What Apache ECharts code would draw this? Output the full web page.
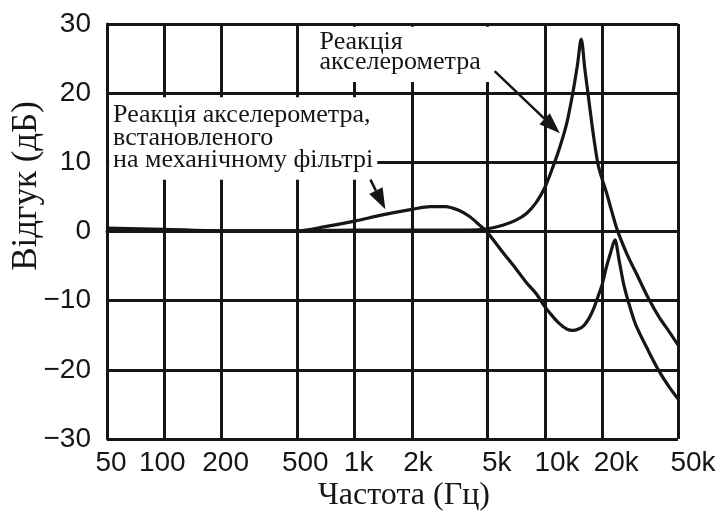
<!DOCTYPE html>
<html>
<head>
<meta charset="utf-8">
<script src="https://cdn.jsdelivr.net/npm/echarts@6/dist/echarts.min.js"></script>
<style>
  html, body { margin: 0; padding: 0; background: #ffffff; }
  #chart { width: 721px; height: 513px; }
</style>
</head>
<body>
<div id="chart"></div>
<script>
// Frequency axis ticks (Hz) and their printed labels
const xTickValues = [50, 100, 200, 500, 1000, 2000, 5000, 10000, 20000, 50000];
const xTickLabels = ['50', '100', '200', '500', '1k', '2k', '5k', '10k', '20k', '50k'];

// Bare accelerometer response (Hz, dB)
const freqA = [50, 100, 200, 500, 1000, 2000, 3000, 4000, 5000, 6000, 7000, 8000, 9000,
  10000, 11000, 12000, 13000, 14000, 14800, 15500, 16200, 17000, 18000, 19000, 20000,
  21000, 22500, 24000, 27000, 30000, 35000, 40000, 45000, 50000];
const respA = [0.3, 0.2, 0.1, 0.1, 0.2, 0.2, 0.2, 0.2, 0.4, 0.9, 1.6, 2.6, 4.2,
  6.4, 9.3, 12.3, 15.6, 20.0, 24.0, 27.8, 23.5, 19.0, 13.8, 9.7, 7.5,
  5.7, 2.8, 0.2, -3.3, -5.9, -9.7, -12.5, -14.5, -16.4];

// Accelerometer mounted on the mechanical filter (Hz, dB)
const freqB = [50, 100, 200, 500, 700, 1000, 1400, 2000, 2500, 3000, 3500, 4000, 4500,
  5000, 6000, 7000, 8000, 9000, 10000, 11000, 12000, 13000, 14000, 15000, 16000, 17000,
  18000, 19000, 20000, 21000, 22000, 23300, 24500, 26000, 28000, 30000, 35000, 40000,
  45000, 50000];
const respB = [0.5, 0.3, 0.1, 0.1, 0.7, 1.5, 2.4, 3.2, 3.6, 3.6, 3.1, 2.2, 1.0,
  -0.2, -3.0, -5.3, -7.4, -9.0, -10.9, -12.3, -13.4, -14.1, -14.3, -14.1, -13.6, -12.6,
  -11.2, -9.4, -7.6, -5.2, -3.3, -1.2, -4.1, -7.8, -11.0, -13.5, -17.3, -20.3,
  -22.5, -24.2];

// Texts drawn on the chart
const noteTop = 'Реакція\nакселерометра';
const noteLeft = 'Реакція акселерометра,\nвстановленого\nна механічному фільтрі';
const yTitle = 'Відгук (дБ)';
const xTitle = 'Частота (Гц)';

const INK = '#161616';
const SERIF = '"Liberation Serif", "DejaVu Serif", serif';
const SANS = '"Liberation Sans", Arial, sans-serif';

// Horizontal nudge (px) of each frequency label, as typeset under the axis
const xLabelNudge = [4, -2, 4, 8, 4, 6, 9, 12, 14, 15];

const labelRich = {};
xLabelNudge.forEach((s, i) => {
  labelRich['r' + i] = {
    fontFamily: SANS, fontSize: 28, color: INK,
    padding: s >= 0 ? [0, 0, 0, 2 * s] : [0, -2 * s, 0, 0]
  };
});

const chart = echarts.init(document.getElementById('chart'), null, { renderer: 'canvas' });

const toPairs = (xs, ys) => xs.map((x, i) => [x, ys[i]]);

chart.setOption({
  animation: false,
  backgroundColor: '#ffffff',
  grid: { left: 107, right: 43, top: 24, bottom: 74, containLabel: false },
  xAxis: {
    type: 'log',
    logBase: 10,
    min: 50,
    max: 50000,
    axisLine: { show: true, lineStyle: { color: INK, width: 3 } },
    axisTick: { show: false, customValues: xTickValues },
    axisLabel: {
      customValues: xTickValues,
      showMinLabel: true,
      showMaxLabel: true,
      margin: 10,
      color: INK,
      fontFamily: SANS,
      fontSize: 28,
      rich: labelRich,
      formatter: (v) => {
        const i = xTickValues.findIndex(t => Math.abs(t - v) / t < 1e-6);
        return i < 0 ? '' : '{r' + i + '|' + xTickLabels[i] + '}';
      }
    },
    splitLine: { show: true, lineStyle: { color: INK, width: 3 } }
  },
  yAxis: {
    type: 'value',
    min: -30,
    max: 30,
    interval: 10,
    axisLine: { show: true, lineStyle: { color: INK, width: 3 } },
    axisTick: { show: false },
    axisLabel: {
      margin: 16,
      color: INK,
      fontFamily: SANS,
      fontSize: 28,
      formatter: (v) => String(v).replace('-', '\u2212')
    },
    splitLine: { show: true, lineStyle: { color: INK, width: 3 } }
  },
  series: [
    {
      name: 'Реакція акселерометра',
      type: 'line',
      data: toPairs(freqA, respA),
      showSymbol: false,
      smooth: 0.3,
      lineStyle: { color: INK, width: 3.2 },
      z: 3
    },
    {
      name: 'Реакція акселерометра, встановленого на механічному фільтрі',
      type: 'line',
      data: toPairs(freqB, respB),
      showSymbol: false,
      smooth: 0.3,
      lineStyle: { color: INK, width: 3.2 },
      z: 3
    }
  ]
});

// Annotations placed from data coordinates [Hz, dB]
const px = (f, db) => chart.convertToPixel({ xAxisIndex: 0, yAxisIndex: 0 }, [f, db]);

function box(p0, p1) {
  return {
    type: 'rect', z: 1, silent: true,
    shape: { x: p0[0], y: p0[1], width: p1[0] - p0[0], height: p1[1] - p0[1] },
    style: { fill: '#ffffff' }
  };
}

function arrow(from, to) {
  const dx = to[0] - from[0], dy = to[1] - from[1];
  const len = Math.hypot(dx, dy), ux = dx / len, uy = dy / len;
  const headL = 21, headW = 7.5;
  const bx = to[0] - ux * headL, by = to[1] - uy * headL;
  return [
    {
      type: 'line', z: 5, silent: true,
      shape: { x1: from[0], y1: from[1], x2: bx, y2: by },
      style: { stroke: INK, lineWidth: 2.5 }
    },
    {
      type: 'polygon', z: 5, silent: true,
      shape: { points: [to, [bx - uy * headW, by + ux * headW], [bx + uy * headW, by - ux * headW]] },
      style: { fill: INK }
    }
  ];
}

const graphics = [
  box(px(560, 29.6), px(6000, 21.6)),
  box(px(51.3, 19.4), px(1316, 7.5)),
  {
    type: 'text', z: 5, silent: true,
    x: px(654, 0)[0], y: px(50, 28.8)[1],
    style: { text: noteTop, font: '26px ' + SERIF, fill: INK, lineHeight: 20, align: 'left', verticalAlign: 'top' }
  },
  {
    type: 'text', z: 5, silent: true,
    x: px(53.8, 0)[0], y: px(50, 18.4)[1],
    style: { text: noteLeft, font: '26px ' + SERIF, fill: INK, lineHeight: 22.5, align: 'left', verticalAlign: 'top' }
  },
  ...arrow(px(5440, 23.2), px(11970, 14.2)),
  ...arrow(px(1210, 7.5), px(1450, 3.2)),
  {
    type: 'text', z: 5, silent: true,
    x: 27, y: 186, rotation: Math.PI / 2,
    style: { text: yTitle, font: '35px ' + SERIF, fill: INK, align: 'center', verticalAlign: 'middle' }
  },
  {
    type: 'text', z: 5, silent: true,
    x: 404, y: 496,
    style: { text: xTitle, font: '32px ' + SERIF, fill: INK, align: 'center', verticalAlign: 'middle' }
  }
];

chart.setOption({ graphic: { elements: graphics } });
</script>
</body>
</html>
